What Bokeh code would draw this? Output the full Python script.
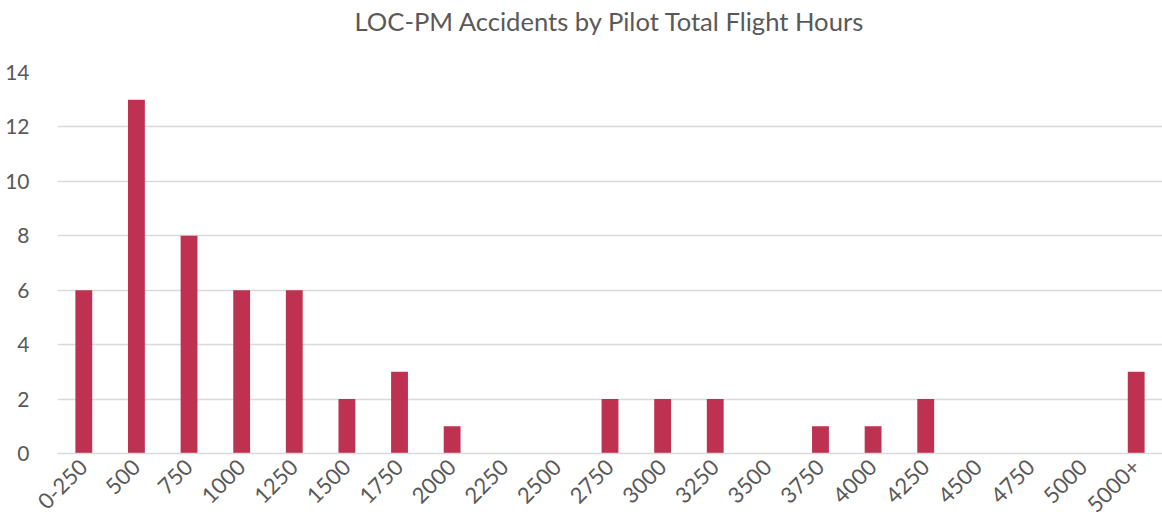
import math
from bokeh.plotting import figure
from bokeh.models import Range1d, FactorRange, SingleIntervalTicker
from bokeh.embed import file_html
from bokeh.resources import INLINE

categories = ["0-250", "500", "750", "1000", "1250", "1500", "1750", "2000", "2250",
              "2500", "2750", "3000", "3250", "3500", "3750", "4000", "4250", "4500",
              "4750", "5000", "5000+"]
accidents = [6, 13, 8, 6, 6, 2, 3, 1, 0, 0, 2, 2, 2, 0, 1, 1, 2, 0, 0, 0, 3]
title_text = "LOC-PM Accidents by Pilot Total Flight Hours"

FONT = "Lato"
p = figure(width=1162, height=556, output_backend="svg", toolbar_location=None,
           x_range=FactorRange(factors=categories, range_padding=0),
           y_range=Range1d(0, 14), title=title_text,
           min_border_left=57, min_border_right=0, min_border_bottom=0,
           min_border_top=0, margin=(-34, 0, 0, 0))

p.vbar(x=categories, top=accidents, width=0.32, color="#BE3150", line_color=None)

p.title.align = "center"
p.title.offset = -13
p.title.text_font = FONT
p.title.text_font_size = "25.6px"
p.title.text_font_style = "normal"
p.title.text_color = "#595959"
p.title.standoff = 74

p.outline_line_color = None
p.xgrid.grid_line_color = None
p.ygrid.grid_line_color = "#d9d9d9"
p.ygrid.grid_line_width = 1.3
p.yaxis.ticker = SingleIntervalTicker(interval=2)
p.yaxis.axis_line_color = None
p.yaxis.major_tick_line_color = None
p.yaxis.minor_tick_line_color = None
p.yaxis.major_label_text_font = FONT
p.yaxis.major_label_text_font_size = "21px"
p.yaxis.major_label_text_color = "#595959"
p.yaxis.major_label_standoff = 22

p.xaxis.axis_line_color = "#d9d9d9"
p.xaxis.axis_line_width = 1.3
p.xaxis.major_tick_line_color = None
p.xaxis.minor_tick_line_color = None
p.xaxis.major_label_orientation = math.pi / 4
p.xaxis.major_label_text_font = FONT
p.xaxis.major_label_text_font_size = "22px"
p.xaxis.major_label_text_color = "#595959"
p.xaxis.major_label_standoff = 4

open("out.html", "w").write(file_html(p, INLINE))
